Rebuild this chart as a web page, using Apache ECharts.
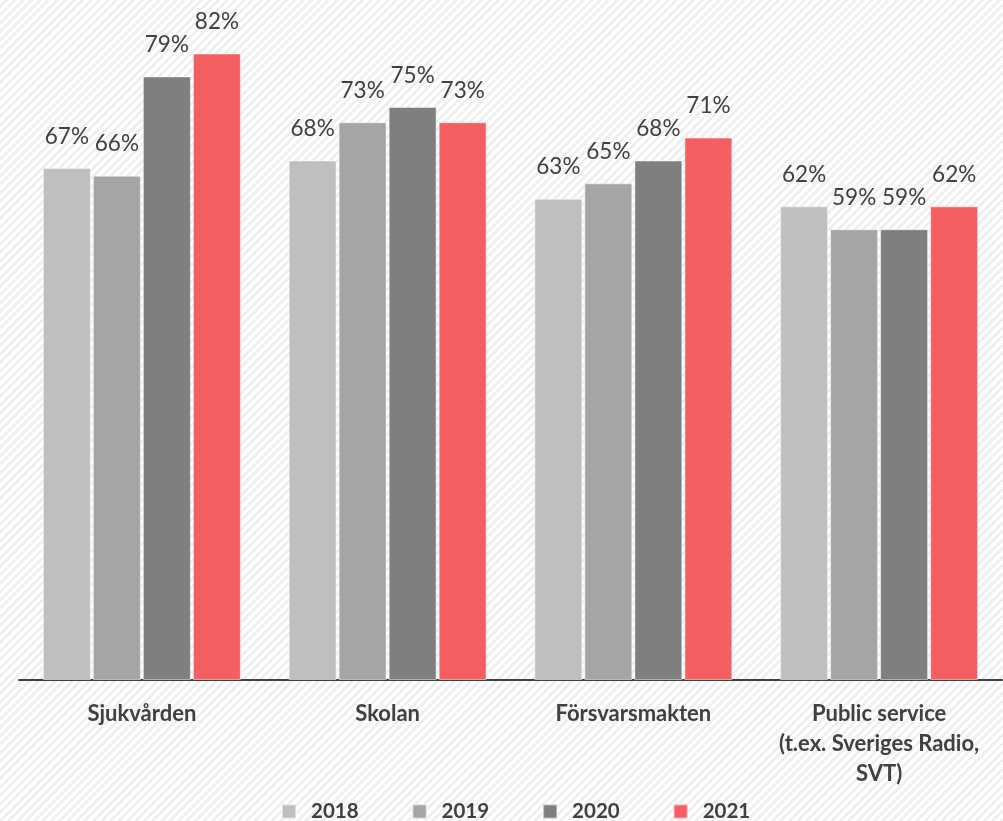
<!DOCTYPE html>
<html>
<head>
<meta charset="utf-8">
<script src="https://cdn.jsdelivr.net/npm/echarts@6/dist/echarts.min.js"></script>
<style>
  html, body { margin: 0; padding: 0; }
  body {
    width: 1003px; height: 821px; overflow: hidden;
    background: repeating-linear-gradient(135deg, #ffffff 0px, #ffffff 3.2px, #efefef 3.2px, #efefef 6px);
  }
  #chart { width: 1003px; height: 821px; }
</style>
</head>
<body>
<div id="chart"></div>
<script>
// Förtroende per institution och år (andel i procent)
const categories = ['Sjukvården', 'Skolan', 'Försvarsmakten', 'Public service\n(t.ex. Sveriges Radio,\nSVT)'];
const years = ['2018', '2019', '2020', '2021'];
const values2018 = [67, 68, 63, 62];
const values2019 = [66, 73, 65, 59];
const values2020 = [79, 75, 68, 59];
const values2021 = [82, 73, 71, 62];
const seriesColors = ['#bfbfbf', '#a5a5a5', '#7f7f7f', '#f46062'];

const FONT = 'Lato, "Open Sans", sans-serif';
const TEXT = '#404040';

const allValues = [values2018, values2019, values2020, values2021];

const chart = echarts.init(document.getElementById('chart'), null, { renderer: 'canvas' });

chart.setOption({
  backgroundColor: 'transparent',
  animation: false,
  color: seriesColors,
  grid: { left: 19, right: 1, top: 0, bottom: 141, containLabel: false },
  legend: {
    data: years,
    left: 276,
    top: 796,
    itemWidth: 14,
    itemHeight: 14,
    itemGap: 53,
    icon: 'rect',
    textStyle: {
      fontFamily: FONT, fontSize: 20.5, fontWeight: 'bold', color: TEXT,
      padding: [0, 0, 0, 10]
    }
  },
  xAxis: {
    type: 'category',
    data: categories,
    axisLine: { show: true, lineStyle: { color: TEXT, width: 2 } },
    axisTick: { show: false },
    axisLabel: {
      fontFamily: FONT, fontSize: 22, fontWeight: 'bold', color: TEXT,
      lineHeight: 30, margin: 19, interval: 0
    }
  },
  yAxis: {
    type: 'value',
    min: 0,
    max: 89,
    show: false,
    splitLine: { show: false }
  },
  series: years.map((y, i) => ({
    name: y,
    type: 'bar',
    data: allValues[i],
    barWidth: 48,
    barGap: '4.2%',
    itemStyle: {
      color: seriesColors[i],
      borderColor: 'rgba(255,255,255,0.5)',
      borderWidth: 1
    },
    label: {
      show: true,
      position: 'top',
      distance: 20,
      formatter: '{c}%',
      fontFamily: FONT,
      fontSize: 22.5,
      color: TEXT
    }
  }))
});
</script>
</body>
</html>
